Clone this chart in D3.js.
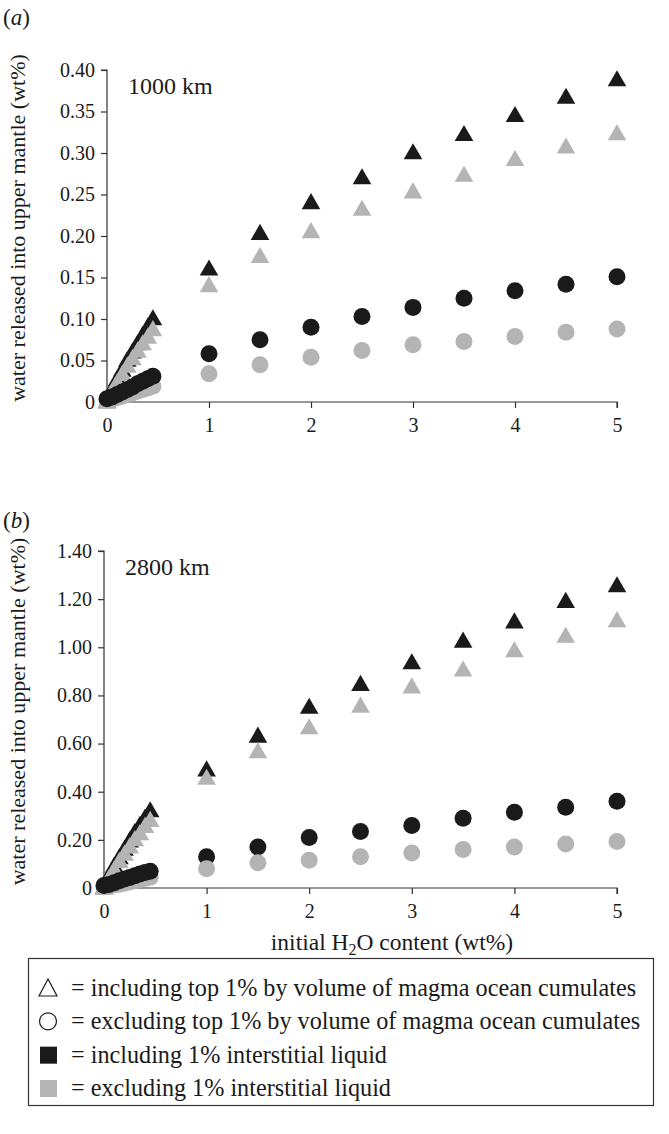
<!DOCTYPE html>
<html>
<head>
<meta charset="utf-8">
<script src="https://cdn.jsdelivr.net/npm/d3@7"></script>
<style>
  body { margin: 0; background: #fff; }
  svg text { font-family: "Liberation Serif", "DejaVu Serif", serif; fill: #1a1a1a; }
</style>
</head>
<body>
<svg id="chart" width="669" height="1134"></svg>
<script>
// x positions (initial H2O content, wt%)
var xSmall = [0, 0.05, 0.1, 0.15, 0.2, 0.25, 0.3, 0.35, 0.4, 0.45];
var xLarge = [1, 1.5, 2, 2.5, 3, 3.5, 4, 4.5, 5];

// panel (a) 1000 km
var aTriBlackSmall = [0, 0.015, 0.027, 0.038, 0.05, 0.06, 0.07, 0.08, 0.09, 0.10];
var aTriGreySmall  = [0, 0.012, 0.023, 0.033, 0.043, 0.052, 0.061, 0.07, 0.078, 0.087];
var aCircBlackSmall = [0.004, 0.006, 0.009, 0.012, 0.015, 0.018, 0.022, 0.025, 0.028, 0.031];
var aCircGreySmall  = [0.002, 0.003, 0.005, 0.007, 0.009, 0.011, 0.013, 0.015, 0.017, 0.019];
var aTriBlack  = [0.160, 0.203, 0.240, 0.270, 0.300, 0.322, 0.345, 0.367, 0.388];
var aTriGrey   = [0.140, 0.175, 0.205, 0.232, 0.253, 0.273, 0.292, 0.307, 0.323];
var aCircBlack = [0.058, 0.075, 0.090, 0.103, 0.114, 0.125, 0.134, 0.142, 0.151];
var aCircGrey  = [0.034, 0.045, 0.054, 0.062, 0.069, 0.073, 0.079, 0.084, 0.088];
var aYTicks = [0, 0.05, 0.10, 0.15, 0.20, 0.25, 0.30, 0.35, 0.40];

// panel (b) 2800 km
var bTriBlackSmall = [0, 0.05, 0.09, 0.125, 0.16, 0.195, 0.23, 0.26, 0.29, 0.32];
var bTriGreySmall  = [0, 0.04, 0.075, 0.11, 0.14, 0.17, 0.20, 0.225, 0.255, 0.28];
var bCircBlackSmall = [0.01, 0.015, 0.022, 0.03, 0.037, 0.044, 0.051, 0.058, 0.064, 0.07];
var bCircGreySmall  = [0.005, 0.008, 0.012, 0.016, 0.02, 0.025, 0.03, 0.035, 0.04, 0.045];
var bTriBlack  = [0.49, 0.63, 0.75, 0.845, 0.935, 1.025, 1.105, 1.19, 1.255];
var bTriGrey   = [0.455, 0.565, 0.665, 0.755, 0.835, 0.905, 0.985, 1.045, 1.11];
var bCircBlack = [0.13, 0.17, 0.21, 0.235, 0.26, 0.29, 0.315, 0.335, 0.36];
var bCircGrey  = [0.08, 0.105, 0.115, 0.13, 0.145, 0.16, 0.17, 0.183, 0.193];
var bYTicks = [0, 0.20, 0.40, 0.60, 0.80, 1.00, 1.20, 1.40];

var xTicks = [0, 1, 2, 3, 4, 5];

var legendItems = [
    ['tri-open', '= including top 1% by volume of magma ocean cumulates'],
    ['circ-open', '= excluding top 1% by volume of magma ocean cumulates'],
    ['sq-black', '= including 1% interstitial liquid'],
    ['sq-grey', '= excluding 1% interstitial liquid']
];

var black = '#1a1a1a';
var grey = '#b4b4b4';
var axisColor = '#333';
var tickFont = 20;

var svg = d3.select('#chart');

function pairs(xs, ys) {
    return xs.map(function(x, i) { return [x, ys[i]]; });
}

/*
 * draws one panel
 * box gives pixel extent of the axes; series are drawn in back-to-front order
 */
function drawPanel(box, yMax, yTicks, label, depth, series) {
    var x = d3.scaleLinear().domain([0, 5]).range([box.left, box.right]);
    var y = d3.scaleLinear().domain([0, yMax]).range([box.bottom, box.top]);

    var g = svg.append('g');

    // axes
    var yAxis = g.append('g')
        .attr('transform', 'translate(' + box.left + ',0)')
        .call(d3.axisLeft(y).tickValues(yTicks).tickSize(6).tickPadding(6)
            .tickFormat(function(d) { return d === 0 ? '0' : d3.format('.2f')(d); }));
    var xAxis = g.append('g')
        .attr('transform', 'translate(0,' + box.bottom + ')')
        .call(d3.axisBottom(x).tickValues(xTicks).tickSize(6).tickPadding(10)
            .tickFormat(d3.format('d')));

    [yAxis, xAxis].forEach(function(a) {
        a.select('.domain').attr('stroke', axisColor).attr('stroke-width', 1.2);
        a.selectAll('.tick line').attr('stroke', axisColor).attr('stroke-width', 1.2);
        a.selectAll('.tick text')
            .style('font-family', '"Liberation Serif", serif')
            .style('font-size', tickFont + 'px')
            .attr('fill', black);
    });
    yAxis.select('.domain').attr('d', 'M-6,' + box.top + 'H0V' + box.bottom);
    xAxis.select('.domain').attr('d', 'M' + box.left + ',0H' + box.right + 'V6');

    // markers
    var tri = d3.symbol().type(d3.symbolTriangle).size(150);
    series.forEach(function(s) {
        var pts = pairs(s.xs, s.ys);
        if (s.shape === 'tri') {
            g.selectAll(null).data(pts).enter().append('path')
                .attr('d', tri)
                .attr('transform', function(d) {
                    return 'translate(' + x(d[0]) + ',' + (y(d[1]) + 1) + ')';
                })
                .attr('fill', s.color);
        } else {
            g.selectAll(null).data(pts).enter().append('circle')
                .attr('cx', function(d) { return x(d[0]); })
                .attr('cy', function(d) { return y(d[1]); })
                .attr('r', 8.5)
                .attr('fill', s.color);
        }
    });

    // panel letter
    var lt = svg.append('text')
        .attr('x', 3)
        .attr('y', box.letterY)
        .style('font-size', '23px');
    lt.append('tspan').text('(');
    lt.append('tspan').style('font-style', 'italic').text(label);
    lt.append('tspan').text(')');

    // depth label
    svg.append('text')
        .attr('x', box.left + 21)
        .attr('y', box.top + 24)
        .style('font-size', '24px')
        .text(depth);

    // y title
    svg.append('text')
        .attr('transform', 'translate(25,' + ((box.top + box.bottom) / 2 - 8) + ') rotate(-90)')
        .attr('text-anchor', 'middle')
        .style('font-size', '22px')
        .text('water released into upper mantle (wt%)');
}

drawPanel({left: 107, right: 617, top: 70, bottom: 402, letterY: 25}, 0.40, aYTicks, 'a', '1000 km', [
    {shape: 'tri', color: black, xs: xLarge, ys: aTriBlack},
    {shape: 'tri', color: grey, xs: xLarge, ys: aTriGrey},
    {shape: 'circ', color: black, xs: xLarge, ys: aCircBlack},
    {shape: 'circ', color: grey, xs: xLarge, ys: aCircGrey},
    {shape: 'tri', color: black, xs: xSmall, ys: aTriBlackSmall},
    {shape: 'tri', color: grey, xs: xSmall, ys: aTriGreySmall},
    {shape: 'circ', color: grey, xs: xSmall, ys: aCircGreySmall},
    {shape: 'circ', color: black, xs: xSmall, ys: aCircBlackSmall}
]);

drawPanel({left: 104, right: 617, top: 551, bottom: 888, letterY: 528}, 1.40, bYTicks, 'b', '2800 km', [
    {shape: 'tri', color: black, xs: xLarge, ys: bTriBlack},
    {shape: 'tri', color: grey, xs: xLarge, ys: bTriGrey},
    {shape: 'circ', color: black, xs: xLarge, ys: bCircBlack},
    {shape: 'circ', color: grey, xs: xLarge, ys: bCircGrey},
    {shape: 'tri', color: black, xs: xSmall, ys: bTriBlackSmall},
    {shape: 'tri', color: grey, xs: xSmall, ys: bTriGreySmall},
    {shape: 'circ', color: grey, xs: xSmall, ys: bCircGreySmall},
    {shape: 'circ', color: black, xs: xSmall, ys: bCircBlackSmall}
]);

// x title
var xt = svg.append('text')
    .attr('x', 392)
    .attr('y', 950)
    .attr('text-anchor', 'middle')
    .style('font-size', '23.5px');
xt.append('tspan').text('initial H');
xt.append('tspan').attr('baseline-shift', '-30%').style('font-size', '16px').text('2');
xt.append('tspan').text('O content (wt%)');

// legend
var legend = svg.append('g');
legend.append('rect')
    .attr('x', 28.5).attr('y', 958.5)
    .attr('width', 625).attr('height', 147)
    .attr('fill', 'none').attr('stroke', axisColor).attr('stroke-width', 1.2);

var rowY = d3.scalePoint().domain(d3.range(legendItems.length)).range([988, 1088]);
legendItems.forEach(function(item, i) {
    var cy = rowY(i);
    var sx = 48;
    if (item[0] === 'tri-open') {
        legend.append('path')
            .attr('d', 'M' + (sx - 9) + ',' + (cy + 8) + 'L' + sx + ',' + (cy - 9) + 'L' + (sx + 9) + ',' + (cy + 8) + 'Z')
            .attr('fill', 'none').attr('stroke', black).attr('stroke-width', 1.2);
    } else if (item[0] === 'circ-open') {
        legend.append('circle').attr('cx', sx).attr('cy', cy).attr('r', 8.5)
            .attr('fill', 'none').attr('stroke', black).attr('stroke-width', 1.2);
    } else {
        legend.append('rect').attr('x', sx - 8).attr('y', cy - 8)
            .attr('width', 17).attr('height', 17)
            .attr('fill', item[0] === 'sq-black' ? black : grey);
    }
    legend.append('text')
        .attr('x', sx + 23)
        .attr('y', cy + 8)
        .style('font-size', '24.2px')
        .text(item[1]);
});
</script>
</body>
</html>
